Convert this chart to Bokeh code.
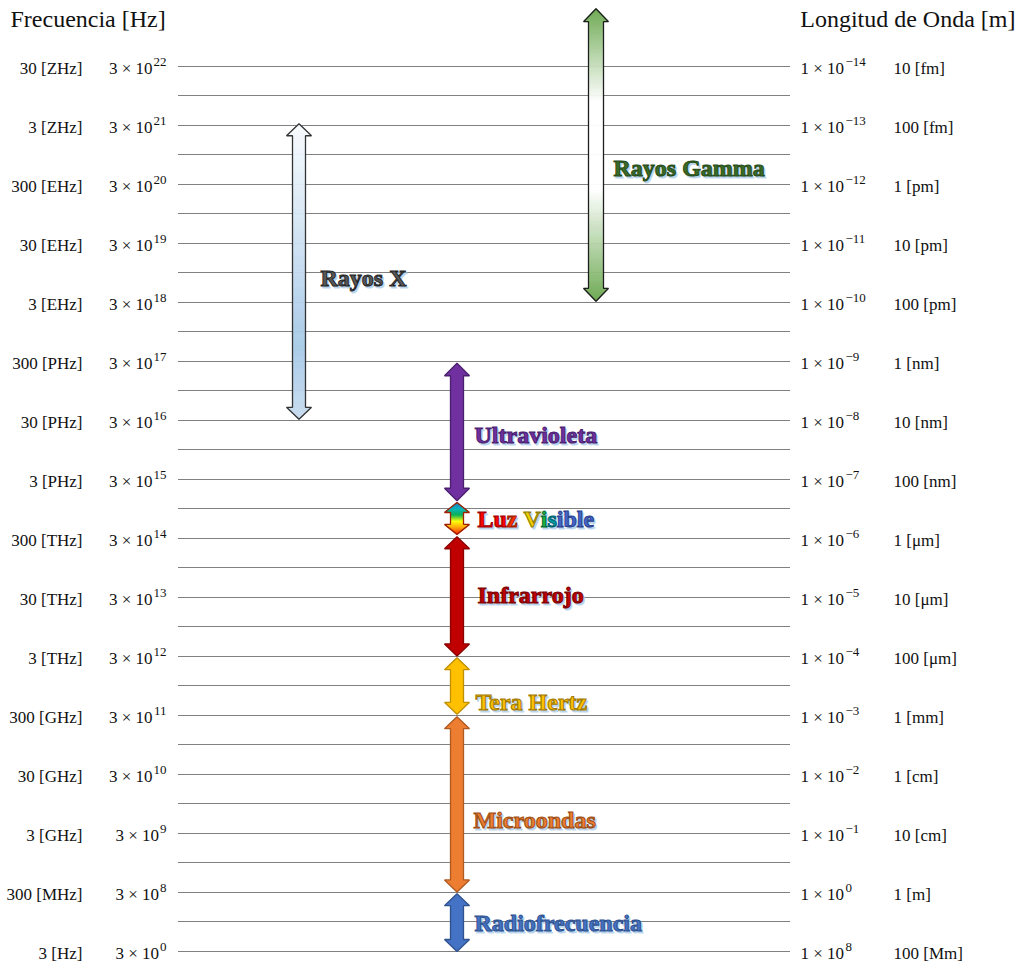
import numpy as np
from bokeh.plotting import figure
from bokeh.models import Range1d
from bokeh.embed import file_html
from bokeh.resources import INLINE
from bokeh.core.properties import value

# ---------------- data ----------------
freq_units = ["30 [ZHz]", "3 [ZHz]", "300 [EHz]", "30 [EHz]", "3 [EHz]",
              "300 [PHz]", "30 [PHz]", "3 [PHz]", "300 [THz]", "30 [THz]",
              "3 [THz]", "300 [GHz]", "30 [GHz]", "3 [GHz]", "300 [MHz]", "3 [Hz]"]
freq_mant = [3] * 16
freq_exp = [22, 21, 20, 19, 18, 17, 16, 15, 14, 13, 12, 11, 10, 9, 8, 0]
wl_mant = [1] * 16
wl_exp = [-14, -13, -12, -11, -10, -9, -8, -7, -6, -5, -4, -3, -2, -1, 0, 8]
wl_units = ["10 [fm]", "100 [fm]", "1 [pm]", "10 [pm]", "100 [pm]",
            "1 [nm]", "10 [nm]", "100 [nm]", "1 [\u03bcm]", "10 [\u03bcm]",
            "100 [\u03bcm]", "1 [mm]", "1 [cm]", "10 [cm]", "1 [m]", "100 [Mm]"]
tick_rows = list(range(16))          # row index of each tick (0 = 3x10^22 Hz)

band_names = ["Rayos Gamma", "Rayos X", "Ultravioleta", "Luz Visible",
              "Infrarrojo", "Tera Hertz", "Microondas", "Radiofrecuencia"]
band_top = [-0.98, 0.97, 5.03, 7.39, 7.97, 10.02, 11.02, 14.02]     # rows
band_bottom = [3.98, 5.98, 7.36, 7.93, 9.99, 10.98, 13.99, 15.0]    # rows

# ---------------- style / layout ----------------
ROW = 59.0                      # pixels per row
ROW0 = 66.0                     # pixel of row 0
W, H = 1021, 965
TOP_ROW = (0 - ROW0) / ROW
BOT_ROW = (H - ROW0) / ROW
SERIF = value("Liberation Serif")

def ry(px):
    return (px - ROW0) / ROW

p = figure(width=W, height=H, x_range=Range1d(0, W),
           y_range=Range1d(BOT_ROW, TOP_ROW), output_backend="svg",
           toolbar_location=None, x_axis_location=None, y_axis_location=None,
           min_border=0, outline_line_color=None)
for g in p.grid:
    g.visible = False

# dotted guide lines at every row and half row (half rows nudged to pixel grid)
guide = np.arange(0, 15.01, 0.5)
guide_y = [float(g) if g == int(g) else float(g) - 0.5 / ROW for g in guide]
p.segment(x0=178, y0=guide_y, x1=790, y1=guide_y, line_color="#000000",
          line_width=1, line_dash="1 1")

# headers
p.text(x=[10], y=[ry(18)], text=["Frecuencia [Hz]"], text_font=SERIF,
       text_font_size="24px", text_baseline="middle", text_align="left",
       text_color="#111111")
p.text(x=[1015], y=[ry(18)], text=["Longitud de Onda [m]"], text_font=SERIF,
       text_font_size="24px", text_baseline="middle", text_align="right",
       text_color="#111111")

# tick labels
def sup(e):
    return str(e).replace("-", "\u2212")

SUPFS = 13
def sup_w(s, fs=SUPFS):
    return sum(0.564 * fs if c == "\u2212" else 0.5 * fs for c in s)

rows = np.array(tick_rows, dtype=float)
dy_base = 2.0 / ROW
dy_sup = -5.0 / ROW

p.text(x=[82] * 16, y=rows + dy_base, text=freq_units, text_font=SERIF,
       text_font_size="17px", text_baseline="middle", text_align="right",
       text_color="#111111")
fsups = [sup(e) for e in freq_exp]
p.text(x=[166] * 16, y=rows + dy_sup, text=fsups, text_font=SERIF,
       text_font_size="%dpx" % SUPFS, text_baseline="middle", text_align="right",
       text_color="#111111")
p.text(x=[166 - sup_w(s) - 1 for s in fsups], y=rows + dy_base,
       text=["%d \u00d7 10" % m for m in freq_mant], text_font=SERIF,
       text_font_size="17px", text_baseline="middle", text_align="right",
       text_color="#111111")

p.text(x=[800] * 16, y=rows + dy_base, text=["%d \u00d7 10" % m for m in wl_mant],
       text_font=SERIF, text_font_size="17px", text_baseline="middle",
       text_align="left", text_color="#111111")
p.text(x=[845] * 16, y=rows + dy_sup, text=[sup(e) for e in wl_exp], text_font=SERIF,
       text_font_size="%dpx" % SUPFS, text_baseline="middle", text_align="left",
       text_color="#111111")
p.text(x=[893] * 16, y=rows + dy_base, text=wl_units, text_font=SERIF,
       text_font_size="17px", text_baseline="middle", text_align="left",
       text_color="#111111")

# ---------------- arrows ----------------
def hex2rgb(h):
    h = h.lstrip("#")
    return np.array([int(h[i:i + 2], 16) for i in (0, 2, 4)], dtype=float)

def grad(stops, t):
    for (t0, c0), (t1, c1) in zip(stops[:-1], stops[1:]):
        if t <= t1:
            f = 0 if t1 == t0 else (t - t0) / (t1 - t0)
            c = hex2rgb(c0) * (1 - f) + hex2rgb(c1) * f
            return "#%02x%02x%02x" % tuple(int(round(v)) for v in c)
    return stops[-1][1]

def arrow(xc, top, bot, shw, hhw, hl_px, fill, line, stops=None):
    hl = hl_px / ROW
    xs = [xc, xc + hhw, xc + shw, xc + shw, xc + hhw, xc, xc - hhw, xc - shw,
          xc - shw, xc - hhw]
    ys = [top, top + hl, top + hl, bot - hl, bot - hl, bot, bot - hl, bot - hl,
          top + hl, top + hl]
    if stops is None:
        p.patch(xs, ys, fill_color=fill, line_color=line, line_width=1.3)
        return
    n = int(round((bot - top) * ROW))
    edges = np.linspace(top, bot, n + 1)
    L, R, T, B, C = [], [], [], [], []
    for y0, y1 in zip(edges[:-1], edges[1:]):
        ym = 0.5 * (y0 + y1)
        d = min(ym - top, bot - ym) * ROW
        hw = hhw * d / hl_px if d < hl_px else shw
        L.append(xc - hw); R.append(xc + hw); T.append(y0); B.append(y1)
        C.append(grad(stops, (ym - top) / (bot - top)))
    p.quad(left=L, right=R, top=T, bottom=B, fill_color=C, line_color=C,
           line_width=0.6)
    p.patch(xs, ys, fill_alpha=0, line_color=line, line_width=1.3)

gamma_stops = [(0, "#6aa84f"), (0.32, "#ffffff"), (0.62, "#ffffff"), (1, "#6aa84f")]
x_stops = [(0, "#f8fbfe"), (0.75, "#a9cbe8"), (1, "#c8dcf0")]
vis_stops = [(0, "#1f6fc0"), (0.2, "#00b0c0"), (0.4, "#00b050"), (0.6, "#ffff00"),
             (0.8, "#ffa000"), (1, "#ff1a00")]

arrow_x = [595.5, 298.5, 456.5, 456.5, 456.5, 456.5, 456.5, 456.5]
arrow_shw = [7.5, 6.5, 6.5, 6.5, 6.5, 6.5, 6.5, 6.5]
arrow_fill = [None, None, "#7030a0", None, "#c00000", "#ffc000", "#ed7d31", "#4472c4"]
arrow_line = ["#1e1e1e", "#333333", "#4a1f70", "#a02000", "#8c0000", "#bf9000",
              "#ae5a21", "#2f528f"]
arrow_stops = [gamma_stops, x_stops, None, vis_stops, None, None, None, None]
arrow_hl = [13, 12, 12.5, 10, 12, 12, 12, 12]
for i in range(len(band_names)):
    arrow(arrow_x[i], band_top[i], band_bottom[i], arrow_shw[i], 12.5, arrow_hl[i],
          arrow_fill[i], arrow_line[i], arrow_stops[i])

# ---------------- band labels ----------------
label_x = [613, 320, 474, 477, 477, 475, 473, 474]
label_y = [ry(v) for v in [167, 277, 434, 518, 594, 701, 819, 922]]
label_col = ["#3a6b27", "#595959", "#7030a0", None, "#c00000", "#ffc000",
             "#ed7d31", "#4472c4"]
label_out = ["#274d1a", "#262626", "#4a1f70", None, "#7a0000", "#a07800",
             "#9c4d14", "#2f528f"]
LFS = "24px"

def label(x, y, txt, col, out):
    p.text(x=[x + 1.5], y=[y + 2.0 / ROW], text=[txt], text_font=SERIF,
           text_font_size=LFS, text_font_style="bold", text_baseline="middle",
           text_align="left", text_color="#a9cbe8", text_outline_color="#bdd7ee",
           text_alpha=0.9)
    p.text(x=[x], y=[y], text=[txt], text_font=SERIF, text_font_size=LFS,
           text_font_style="bold", text_baseline="middle", text_align="left",
           text_color=col, text_outline_color=out)

for i, name in enumerate(band_names):
    if name == "Luz Visible":
        continue
    label(label_x[i], label_y[i], name, label_col[i], label_out[i])

# multicoloured "Luz Visible"
iv = band_names.index("Luz Visible")
parts = [("Lu", 0, "#ff0000", "#a00000"), ("z", 29.3, "#ff3000", "#a02000"),
         ("V", 46, "#f0d000", "#8a7a00"),
         ("i", 63.3, "#20b040", "#006a30"), ("s", 70, "#00a0a0", "#006070"),
         ("ible", 79.3, "#4466cc", "#2a3f8a")]
for txt, dx, col, out in parts:
    label(label_x[iv] + dx, label_y[iv], txt, col, out)

open("out.html", "w").write(file_html(p, INLINE))
